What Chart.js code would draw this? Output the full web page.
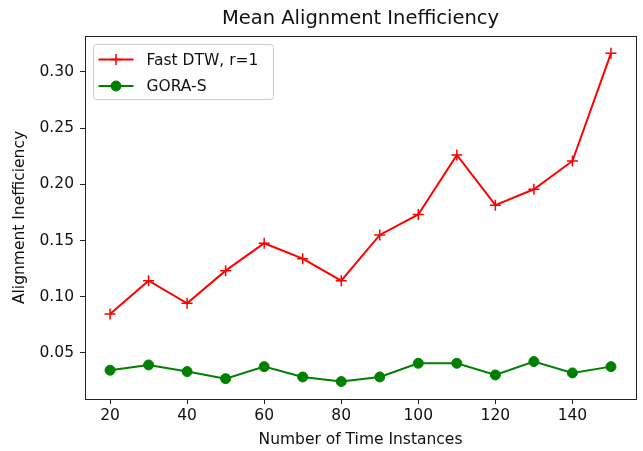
<!DOCTYPE html>
<html>
<head>
<meta charset="utf-8">
<script src="https://cdn.jsdelivr.net/npm/chart.js@4"></script>
<style>
  body { margin: 0; background: #fff; }
  canvas { display: block; }
</style>
</head>
<body>
<canvas id="chart" width="643" height="451"></canvas>
<script>
// values
var timeInstances = [20, 30, 40, 50, 60, 70, 80, 90, 100, 110, 120, 130, 140, 150];
var fastDtw = [0.0847, 0.1143, 0.0942, 0.1232, 0.1476, 0.1339, 0.1143, 0.1550, 0.1732, 0.2262, 0.1815, 0.1956, 0.2208, 0.3166];
var goraS = [0.0346, 0.0393, 0.0334, 0.0271, 0.0378, 0.0286, 0.0245, 0.0286, 0.0408, 0.0408, 0.0304, 0.0423, 0.0322, 0.0378];
var xTicks = [20, 40, 60, 80, 100, 120, 140];
var yTicks = [0.05, 0.10, 0.15, 0.20, 0.25, 0.30];
var chartTitle = 'Mean Alignment Inefficiency';

var FONT = 'DejaVu Sans';

function toPoints(xs, ys) {
    return xs.map(function(x, i) { return { x: x, y: ys[i] }; });
}

// frame round the plot area + title centred over the axes (like matplotlib)
var framePlugin = {
    id: 'frame',
    afterDraw: function(chart) {
        var a = chart.chartArea;
        var ctx = chart.ctx;
        ctx.save();
        ctx.strokeStyle = '#222';
        ctx.lineWidth = 1;
        ctx.strokeRect(Math.round(a.left) + 0.5, Math.round(a.top) + 0.5,
            Math.round(a.right - a.left), Math.round(a.bottom - a.top));

        ctx.fillStyle = '#111';
        ctx.font = '19.5px "' + FONT + '"';
        ctx.textAlign = 'center';
        ctx.textBaseline = 'middle';
        ctx.fillText(chartTitle, (a.left + a.right) / 2, a.top - 17);
        ctx.restore();
    }
};

// legend box inside the upper left corner
var legendPlugin = {
    id: 'innerLegend',
    afterDraw: function(chart) {
        var ctx = chart.ctx;
        var a = chart.chartArea;
        var x0 = a.left + 8.5, y0 = a.top + 8.5;
        var w = 180, h = 55;
        ctx.save();
        ctx.beginPath();
        ctx.roundRect(x0, y0, w, h, 3);
        ctx.fillStyle = 'rgba(255,255,255,0.8)';
        ctx.fill();
        ctx.strokeStyle = '#cccccc';
        ctx.lineWidth = 1;
        ctx.stroke();

        chart.data.datasets.forEach(function(ds, i) {
            var y = y0 + 15 + i * 26.5;
            var lx1 = x0 + 5, lx2 = x0 + 40;
            ctx.beginPath();
            ctx.strokeStyle = ds.borderColor;
            ctx.lineWidth = ds.borderWidth;
            ctx.moveTo(lx1, y);
            ctx.lineTo(lx2, y);
            ctx.stroke();
            ctx.fillStyle = ds.backgroundColor;
            ctx.strokeStyle = ds.borderColor;
            ctx.lineWidth = ds.pointBorderWidth;
            Chart.helpers.drawPoint(ctx, {
                pointStyle: ds.pointStyle,
                radius: ds.pointRadius,
                borderWidth: ds.pointBorderWidth
            }, (lx1 + lx2) / 2, y);
            ctx.fillStyle = '#111';
            ctx.font = '15.5px "' + FONT + '"';
            ctx.textBaseline = 'middle';
            ctx.textAlign = 'left';
            ctx.fillText(ds.label, x0 + 53, y + 1);
        });
        ctx.restore();
    }
};

var ctx = document.getElementById('chart').getContext('2d');
var chart = new Chart(ctx, {
    type: 'line',
    data: {
        datasets: [{
            label: 'Fast DTW, r=1',
            data: toPoints(timeInstances, fastDtw),
            borderColor: '#ff0000',
            backgroundColor: '#ff0000',
            borderWidth: 2,
            pointStyle: 'cross',
            pointRadius: 5.5,
            pointBorderWidth: 1.5,
            tension: 0
        }, {
            label: 'GORA-S',
            data: toPoints(timeInstances, goraS),
            borderColor: '#008000',
            backgroundColor: '#008000',
            borderWidth: 2,
            pointStyle: 'circle',
            pointRadius: 5,
            pointBorderWidth: 1,
            tension: 0
        }]
    },
    options: {
        responsive: false,
        animation: false,
        devicePixelRatio: 1,
        layout: { padding: { left: 0, right: 3, top: 36, bottom: 0 } },
        plugins: {
            legend: { display: false },
            tooltip: { enabled: false },
            title: { display: false }
        },
        scales: {
            x: {
                type: 'linear',
                min: 13.5,
                max: 156.5,
                afterBuildTicks: function(scale) {
                    scale.ticks = xTicks.map(function(v) { return { value: v }; });
                },
                afterFit: function(scale) { scale.height = 52; },
                ticks: {
                    color: '#111',
                    font: { family: FONT, size: 15.5 },
                    padding: 3,
                    maxRotation: 0,
                    callback: function(v) { return v; }
                },
                grid: {
                    display: true,
                    drawOnChartArea: false,
                    drawTicks: true,
                    tickLength: 5,
                    tickColor: '#222',
                    tickWidth: 1
                },
                border: { display: false },
                title: {
                    display: true,
                    text: 'Number of Time Instances',
                    color: '#111',
                    font: { family: FONT, size: 15.5 },
                    padding: { top: 0, bottom: 2 }
                }
            },
            y: {
                type: 'linear',
                min: 0.009,
                max: 0.332,
                afterBuildTicks: function(scale) {
                    scale.ticks = yTicks.map(function(v) { return { value: v }; });
                },
                afterFit: function(scale) { scale.width = 85; },
                ticks: {
                    color: '#111',
                    font: { family: FONT, size: 15.5 },
                    padding: 6,
                    callback: function(v) { return v.toFixed(2); }
                },
                grid: {
                    display: true,
                    drawOnChartArea: false,
                    drawTicks: true,
                    tickLength: 5,
                    tickColor: '#222',
                    tickWidth: 1
                },
                border: { display: false },
                title: {
                    display: true,
                    text: 'Alignment Inefficiency',
                    color: '#111',
                    font: { family: FONT, size: 15.5 },
                    padding: { top: 11, bottom: 0 }
                }
            }
        }
    },
    plugins: [framePlugin, legendPlugin]
});
</script>
</body>
</html>
